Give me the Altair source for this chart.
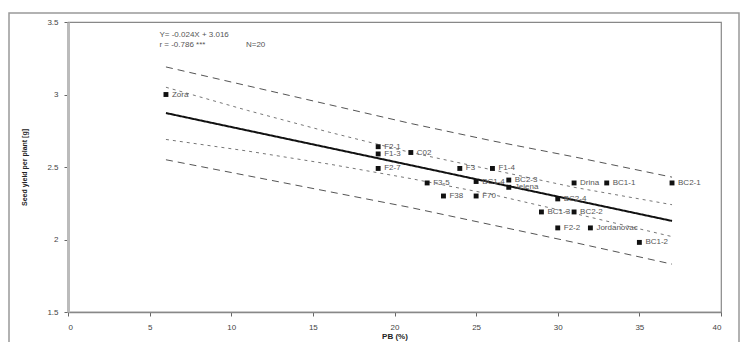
import altair as alt
import pandas as pd

# --- data ---
genotypes = ["Zora", "F2-1", "F1-3", "F2-7", "C02", "F3-5", "F3", "F1-4", "F38", "F70",
             "BC1-4", "BC2-3", "Jelena", "BC2-4", "Drina", "BC1-1", "BC2-1",
             "BC1-3", "BC2-2", "F2-2", "Jordanovac", "BC1-2"]
pb = [6.0, 19.0, 19.0, 19.0, 21.0, 22.0, 24.0, 26.0, 23.0, 25.0,
      25.0, 27.0, 27.0, 30.0, 31.0, 33.0, 37.0,
      29.0, 31.0, 30.0, 32.0, 35.0]
seed_yield = [3.00, 2.64, 2.59, 2.49, 2.60, 2.39, 2.49, 2.49, 2.30, 2.30,
              2.40, 2.41, 2.36, 2.28, 2.39, 2.39, 2.39,
              2.19, 2.19, 2.08, 2.08, 1.98]

band_x = [6, 11, 16, 21, 26, 31, 37]
fit_y = [2.872, 2.752, 2.632, 2.512, 2.392, 2.272, 2.128]
inner_hi = [3.05, 2.89, 2.74, 2.60, 2.48, 2.36, 2.24]
inner_lo = [2.69, 2.61, 2.52, 2.42, 2.31, 2.18, 2.02]
outer_hi = [3.19, 3.06, 2.93, 2.80, 2.68, 2.57, 2.43]
outer_lo = [2.55, 2.44, 2.33, 2.22, 2.10, 1.98, 1.83]

ann_text = ["Y= -0.024X + 3.016", "r = -0.786 ***", "N=20"]
ann_x = [5.6, 5.6, 10.9]
ann_y = [3.41, 3.34, 3.34]

FONT = "Liberation Sans"

pts = pd.DataFrame({"PB": pb, "SY": seed_yield, "name": genotypes})
rows = []
for name, vals in [("ihi", inner_hi), ("ilo", inner_lo), ("ohi", outer_hi), ("olo", outer_lo), ("fit", fit_y)]:
    for xv, yv in zip(band_x, vals):
        rows.append({"PB": xv, "SY": yv, "band": name})
bands = pd.DataFrame(rows)
ann = pd.DataFrame({"t": ann_text, "PB": ann_x, "SY": ann_y})

xs = alt.Scale(domain=[0, 40], nice=False, zero=False)
ys = alt.Scale(domain=[1.5, 3.5], nice=False, zero=False)

x_axis = alt.Axis(values=list(range(0, 41, 5)), title="PB (%)", grid=False,
                  labelFontSize=8, labelColor="#444", labelFont=FONT,
                  titleFontSize=8, titleFont=FONT, titleFontWeight="bold",
                  titleColor="#222", titlePadding=1,
                  domainColor="#888", domainWidth=1.5,
                  tickColor="#666", tickSize=4, labelPadding=7)
y_axis = alt.Axis(values=[1.5, 2, 2.5, 3, 3.5], format="~g",
                  title="Seed yield per plant [g]", grid=False,
                  labelFontSize=8, labelColor="#444", labelFont=FONT,
                  titleFontSize=7, titleFont=FONT, titleFontWeight="bold",
                  titleColor="#222", titlePadding=19,
                  domainColor="#bbb", domainWidth=3,
                  tickColor="#666", tickSize=4, labelPadding=6)

X = alt.X("PB:Q", scale=xs, axis=x_axis)
Y = alt.Y("SY:Q", scale=ys, axis=y_axis)

frame = alt.Chart(pd.DataFrame({"a": [0]})).mark_rect(
    fill=None, stroke="#999", strokeWidth=1.5, clip=False
).encode(x=alt.value(-59), x2=alt.value(671), y=alt.value(-9), y2=alt.value(330))

def band_layer(name, dash, color, width):
    return alt.Chart(bands).transform_filter(alt.datum.band == name).mark_line(
        strokeDash=dash, color=color, strokeWidth=width
    ).encode(x=X, y=Y)

inner1 = band_layer("ihi", [3, 4], "#777", 1)
inner2 = band_layer("ilo", [3, 4], "#777", 1)
outer1 = band_layer("ohi", [7, 5], "#555", 1)
outer2 = band_layer("olo", [7, 5], "#555", 1)
fit = band_layer("fit", [1, 0], "#111", 2)

points = alt.Chart(pts).mark_square(size=24, color="#111", opacity=1).encode(x=X, y=Y)

labels = alt.Chart(pts).mark_text(
    align="left", dx=6, fontSize=8, color="#555", font=FONT
).encode(x=X, y=Y, text="name:N")

annot = alt.Chart(ann).mark_text(
    align="left", fontSize=8, color="#555", font=FONT
).encode(x=X, y=Y, text="t:N")

chart = alt.layer(frame, outer1, outer2, inner1, inner2, fit, points, labels, annot).properties(
    width=653, height=290,
    autosize=alt.AutoSizeParams(type="none"),
    padding={"left": 60, "top": 14, "right": 20, "bottom": 30},
).configure_view(stroke="#888", strokeWidth=1.2)

chart.save("out.html", embed_options={"renderer": "svg", "actions": False})
